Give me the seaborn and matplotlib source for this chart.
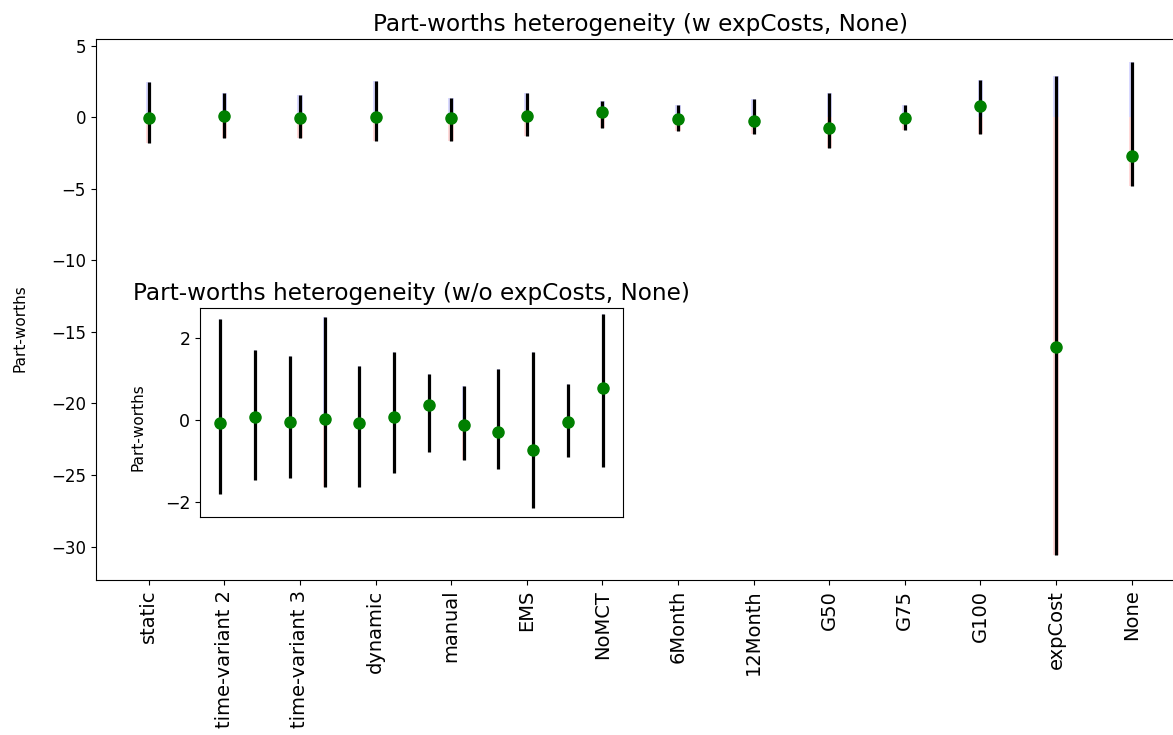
import numpy as np
import pandas as pd
import matplotlib
matplotlib.use("Agg")
import matplotlib.pyplot as plt
import seaborn as sns

# -----------------------------
# Data
# -----------------------------
categories = ["static", "time-variant 2", "time-variant 3", "dynamic", "manual", "EMS",
              "NoMCT", "6Month", "12Month", "G50", "G75", "G100", "expCost", "None"]
means = [-0.08, 0.08, -0.05, 0.03, -0.08, 0.06, 0.37, -0.12, -0.29, -0.73, -0.05, 0.78,
         -16.06, -2.7]
highs = [2.47, 1.71, 1.55, 2.51, 1.31, 1.66, 1.11, 0.82, 1.24, 1.66, 0.88, 2.59,
         2.9, 3.88]
lows = [-1.81, -1.47, -1.43, -1.63, -1.63, -1.29, -0.78, -0.98, -1.2, -2.16, -0.91, -1.14,
        -30.57, -4.8]

df = pd.DataFrame({"category": categories, "mean": means, "high": highs, "low": lows})
df_inset = df[~df["category"].isin(["expCost", "None"])].reset_index(drop=True)

BAR_W = 0.07


def draw_heterogeneity(ax, data):
    # faint bars from zero to the max (blue) and min (red)
    sns.barplot(data=data, x="category", y="high", color="blue", alpha=0.15,
                saturation=1, width=BAR_W, linewidth=0, ax=ax)
    sns.barplot(data=data, x="category", y="low", color="red", alpha=0.15,
                saturation=1, width=BAR_W, linewidth=0, ax=ax)
    pos = np.arange(len(data))
    ax.vlines(pos, data["low"], data["high"], colors="black", linewidth=2.3, zorder=3)
    ax.plot(pos, data["mean"], "o", color="green", markersize=8, zorder=4)
    ax.set_xlabel("")


fig = plt.figure(figsize=(11.73, 7.35), dpi=100)

# main axes (right spine runs past the canvas edge as in the reference)
ax = fig.add_axes([0.0816, 0.2109, 0.9283, 0.7354])
draw_heterogeneity(ax, df)
ax.set_title("Part-worths heterogeneity (w expCosts, None)", fontsize=16.7)
ax.set_ylabel("Part-worths", fontsize=11)
ax.yaxis.set_label_coords(-0.063, 0.466)
ax.set_xlim(-0.7, len(df) - 1 + 0.7)
ax.set_ylim(-32.33, 5.43)
ax.set_yticks([5, 0, -5, -10, -15, -20, -25, -30])
ax.tick_params(axis="x", labelrotation=90, labelsize=14)
ax.tick_params(axis="y", labelsize=12)

# inset without the two extreme attributes
axin = fig.add_axes([0.1705, 0.2966, 0.3606, 0.2844])
draw_heterogeneity(axin, df_inset)
axin.set_title("Part-worths heterogeneity (w/o expCosts, None)", fontsize=16.7)
axin.set_ylabel("Part-worths", fontsize=11)
axin.yaxis.set_label_coords(-0.13, 0.43)
axin.set_xlim(-0.58, len(df_inset) - 1 + 0.58)
axin.set_ylim(-2.37, 2.73)
axin.set_yticks([2, 0, -2])
axin.tick_params(axis="y", labelsize=12.5)
axin.set_xticks([])

fig.savefig("out.png", dpi=100)
